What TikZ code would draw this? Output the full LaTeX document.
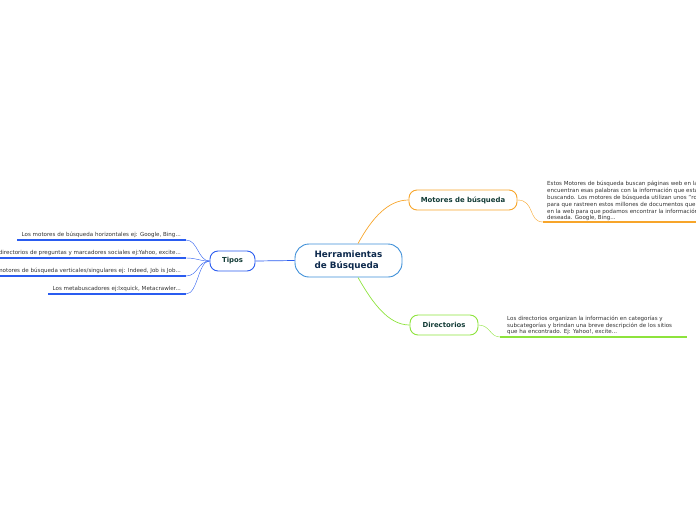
\documentclass[tikz,border=0pt]{standalone}
\usepackage{fontspec}
\setmainfont{DejaVu Sans}
\usetikzlibrary{calc}
\definecolor{cBlue}{HTML}{3D8FD8}
\definecolor{cTipos}{HTML}{2A5CF0}
\definecolor{cOrange}{HTML}{F7A52A}
\definecolor{cGreen}{HTML}{8DE33C}
\definecolor{cNavy}{HTML}{0E2A4D}
\definecolor{cTeal}{HTML}{123B36}
\definecolor{cText}{HTML}{333333}
\tikzset{
  topic/.style={draw, line width=0.9pt, fill=white, inner sep=0pt, font=\bfseries\fontsize{6.9}{8}\selectfont, text=cTeal},
  leaf/.style={inner sep=0pt, font=\fontsize{5.55}{6.9}\selectfont, text=cText, align=left},
  link/.style={line width=0.7pt},
  uline/.style={line width=1.2pt}
}
\begin{document}
\begin{tikzpicture}[x=1pt,y=-1pt]
\useasboundingbox (0,0) rectangle (696,520);
\clip (0,0) rectangle (696,520);
% central
\node[topic, draw=cBlue, text=cNavy, minimum width=107pt, minimum height=33pt, rounded corners=14pt, align=left, font=\bfseries\fontsize{8.8}{10.5}\selectfont] (c) at (348.5,260.5) {Herramientas\\de Búsqueda};
% main topics
\node[topic, draw=cOrange, minimum width=108pt, minimum height=20pt, rounded corners=8pt] (m) at (463,200) {Motores de búsqueda};
\node[topic, draw=cGreen, minimum width=68pt, minimum height=20pt, rounded corners=8pt] (d) at (444,325) {Directorios};
\node[topic, draw=cTipos, minimum width=45pt, minimum height=20pt, rounded corners=8pt] (t) at (232.5,261) {Tipos};
% links from central
\draw[link, cOrange] ($(c.north)+(9.5,0)$) .. controls (372,218) and (388,200) .. (m.west);
\draw[link, cGreen] ($(c.south)+(9.5,0)$) .. controls (372,302) and (388,325) .. (d.west);
\draw[link, cTipos] (c.west) -- (t.east);
% motores detail
\coordinate (mu1) at (543,222);
\coordinate (mu2) at (696,222);
\draw[link, cOrange, line width=0.4pt] (m.east) .. controls (535,200) and (528,222) .. (mu1);
\draw[uline, cOrange] (mu1) -- (mu2);
\node[leaf, anchor=north west] (mt) at (547,180.8) {Estos Motores de búsqueda buscan páginas web en las que se\\encuentran esas palabras con la información que estamos\\buscando. Los motores de búsqueda utilizan unos "robots"\\para que rastreen estos millones de documentos que hay\\en la web para que podamos encontrar la información\\deseada. Google, Bing...};
% directorios detail
\coordinate (du1) at (500,337);
\coordinate (du2) at (687,337);
\draw[link, cGreen, line width=0.4pt] (d.east) .. controls (490,325) and (490,337) .. (du1);
\draw[uline, cGreen] (du1) -- (du2);
\node[leaf, anchor=north west] (dt) at (507,315.5) {Los directorios organizan la información en categorías y\\subcategorías y brindan una breve descripción de los sitios\\que ha encontrado. Ej: Yahoo!, excite...};
% tipos children
\coordinate (a1) at (17,240); \coordinate (a2) at (186,240);
\coordinate (b1) at (0,258); \coordinate (b2) at (186,258);
\coordinate (e1) at (0,276); \coordinate (e2) at (186,276);
\coordinate (f1) at (48,294); \coordinate (f2) at (186,294);
\foreach \p/\q in {a1/a2,b1/b2,e1/e2,f1/f2}{
  \draw[uline, cTipos] (\p) -- (\q);
  \draw[link, cTipos, line width=0.4pt] (t.west) .. controls (198,261) and (198,0|-\q) .. (\q);
}
\node[leaf, anchor=base east] (ta) at (181,236) {Los motores de búsqueda horizontales ej: Google, Bing...};
\node[leaf, anchor=base east] (tb) at (181,254) {Los directorios de preguntas y marcadores sociales ej:Yahoo, excite...};
\node[leaf, anchor=base east] (tc) at (181,272) {Los motores de búsqueda verticales/singulares ej: Indeed, Job is Job...};
\node[leaf, anchor=base east] (td) at (181,290) {Los metabuscadores ej:Ixquick, Metacrawler...};
\end{tikzpicture}
\end{document}
